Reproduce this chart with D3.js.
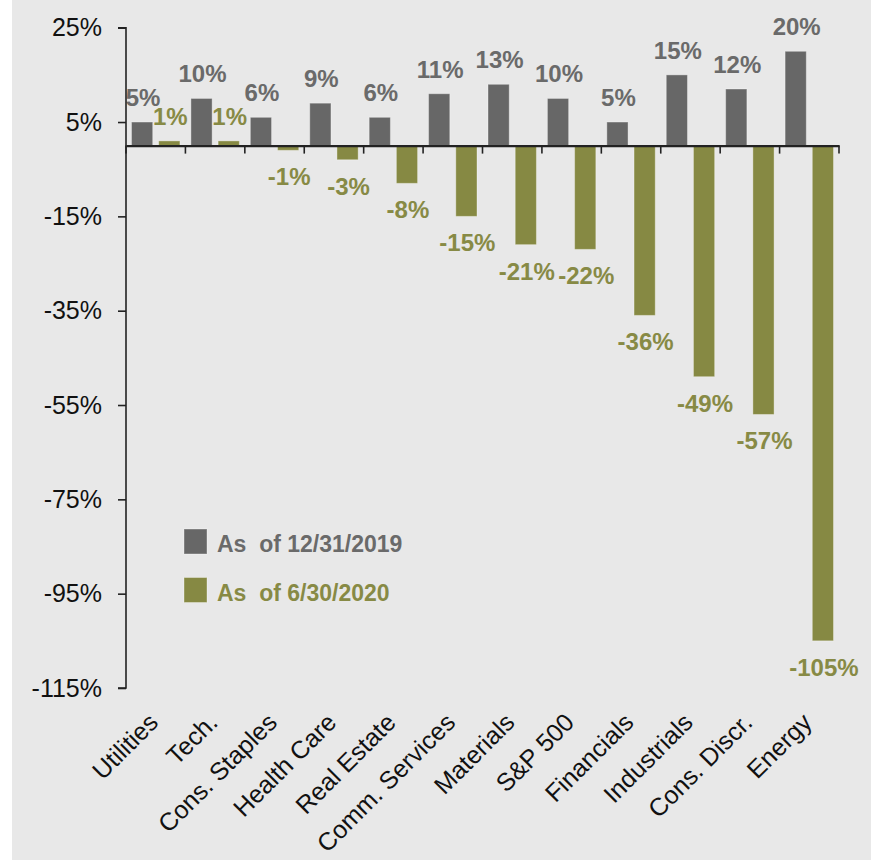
<!DOCTYPE html>
<html>
<head>
<meta charset="utf-8">
<script src="https://cdn.jsdelivr.net/npm/d3@7"></script>
<style>
  html, body { margin: 0; padding: 0; background: #ffffff; }
  svg { display: block; }
  text { font-family: "Liberation Sans", Arial, sans-serif; }
</style>
</head>
<body>
<svg id="chart" width="871" height="867"></svg>
<script>
// Sector earnings growth estimates, two snapshots
const categories = ["Utilities", "Tech.", "Cons. Staples", "Health Care", "Real Estate",
  "Comm. Services", "Materials", "S&P 500", "Financials", "Industrials", "Cons. Discr.", "Energy"];
const seriesNames = ["As of 12/31/2019", "As of 6/30/2020"];
const values2019 = [5, 10, 6, 9, 6, 11, 13, 10, 5, 15, 12, 20];
const values2020 = [1, 1, -1, -3, -8, -15, -21, -22, -36, -49, -57, -105];
const yTicks = [25, 5, -15, -35, -55, -75, -95, -115];

const barColors = ["#676767", "#868943"];
const labelColors = ["#6a6a6a", "#878a45"];

const svg = d3.select("#chart");

// panel background
svg.append("rect")
  .attr("x", 12).attr("y", 0)
  .attr("width", 859).attr("height", 860)
  .attr("fill", "#e8e8e8");

const x = d3.scaleBand().domain(categories).range([126, 839]).paddingInner(0).paddingOuter(0);
const bw = x.bandwidth();
const xs = d3.scaleBand().domain(seriesNames).range([5.5, bw - 5.5]).paddingInner(0.22);
const y = d3.scaleLinear().domain([-115, 25]).range([688, 27.7]);

const rows = categories.map((c, i) => ({ cat: c, vals: [values2019[i], values2020[i]] }));

// bars
const groups = svg.append("g").selectAll("g")
  .data(rows).join("g")
  .attr("transform", d => `translate(${x(d.cat)},0)`);

groups.selectAll("rect")
  .data(d => d.vals.map((v, k) => ({ v, k })))
  .join("rect")
  .attr("x", d => xs(seriesNames[d.k]))
  .attr("width", xs.bandwidth())
  .attr("y", d => y(Math.max(0, d.v)))
  .attr("height", d => Math.abs(y(d.v) - y(0)))
  .attr("fill", d => barColors[d.k])
  .attr("stroke", "rgba(255,255,255,0.35)")
  .attr("stroke-width", 1);

// value labels
groups.selectAll("text.val")
  .data(d => d.vals.map((v, k) => ({ v, k })))
  .join("text")
  .attr("class", "val")
  .attr("x", d => xs(seriesNames[d.k]) + xs.bandwidth() / 2 + 1)
  .attr("y", d => d.v >= 0 ? y(d.v) - 16 : y(d.v) + 35)
  .attr("text-anchor", "middle")
  .attr("font-size", 24)
  .attr("font-weight", "bold")
  .attr("fill", d => labelColors[d.k])
  .text(d => d.v + "%");

// y axis
const yAxis = d3.axisLeft(y).tickValues(yTicks).tickSize(8).tickPadding(16)
  .tickFormat(d => d + "%");
const gy = svg.append("g").attr("transform", "translate(126,0)").call(yAxis);
gy.select(".domain").attr("stroke", "#222").attr("stroke-width", 1.6).attr("d", `M-8,${y(25)}H0V${y(-115)}H-8`);
gy.selectAll(".tick line").attr("stroke", "#222").attr("stroke-width", 1.6);
gy.selectAll(".tick text").attr("font-size", 25).attr("fill", "#111")
  .attr("font-family", "'Liberation Sans', Arial, sans-serif");

// zero line with category dividers
const xAxis = d3.axisBottom(x).tickSize(0).tickFormat("");
const gx = svg.append("g").attr("transform", `translate(0,${y(0)})`).call(xAxis);
gx.select(".domain").attr("stroke", "#222").attr("stroke-width", 2.2);
gx.selectAll(".tick").remove();
gx.selectAll("line.div")
  .data(d3.range(categories.length + 1))
  .join("line")
  .attr("class", "div")
  .attr("x1", i => i < categories.length ? x(categories[i]) : x.range()[1])
  .attr("x2", i => i < categories.length ? x(categories[i]) : x.range()[1])
  .attr("y1", 0).attr("y2", 8)
  .attr("stroke", "#222").attr("stroke-width", 1.6);

// rotated category labels
svg.append("g").selectAll("text")
  .data(categories).join("text")
  .attr("transform", d => `translate(${x(d) + bw / 2 + 4},724) rotate(-45)`)
  .attr("text-anchor", "end")
  .attr("font-size", 25)
  .attr("fill", "#111")
  .text(d => d);

// legend
const legend = svg.append("g").selectAll("g")
  .data(seriesNames).join("g")
  .attr("transform", (d, i) => `translate(184,${529 + i * 48.5})`);
legend.append("rect")
  .attr("width", 23).attr("height", 25)
  .attr("fill", (d, i) => barColors[i])
  .attr("stroke", "rgba(255,255,255,0.35)");
legend.append("text")
  .attr("x", 33).attr("y", 23)
  .attr("font-size", 23)
  .attr("font-weight", "bold")
  .attr("fill", (d, i) => labelColors[i])
  .attr("xml:space", "preserve")
  .text(d => d.replace("As of", "As  of"));
</script>
</body>
</html>
